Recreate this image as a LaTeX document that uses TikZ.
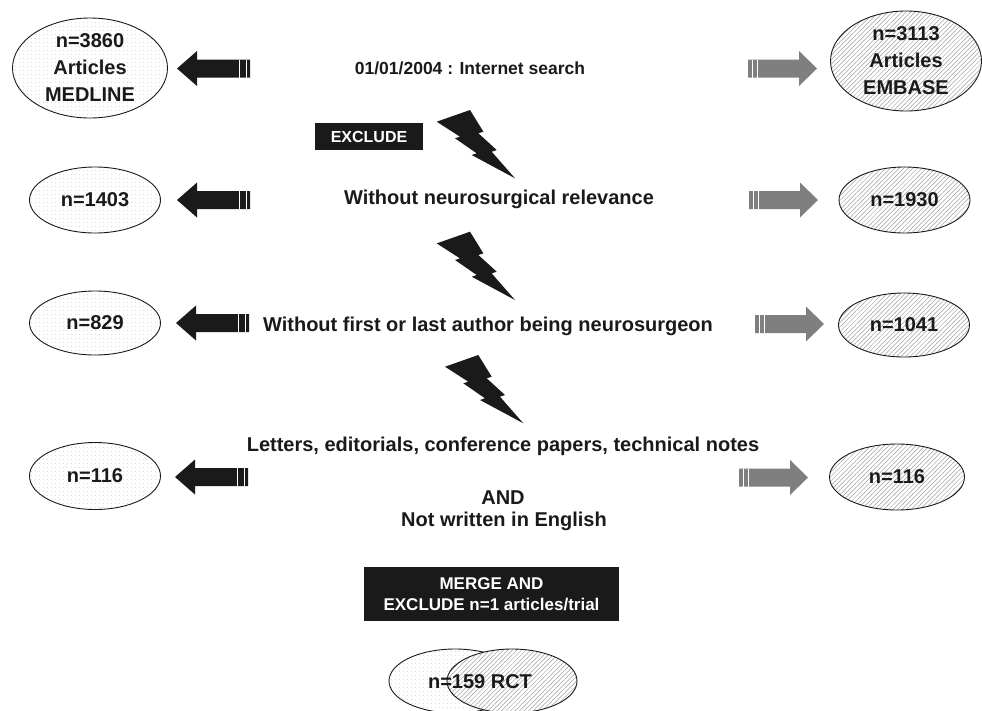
\documentclass[tikz,border=0pt]{standalone}
\usepackage{fontspec}
\setmainfont{Liberation Sans}
\usetikzlibrary{shapes.geometric,patterns.meta}
\definecolor{ink}{HTML}{1A1A1A}
\definecolor{arrgray}{HTML}{7F7F7F}
\begin{document}
\begin{tikzpicture}[x=1pt,y=-1pt,
  lell/.style={ellipse, draw=ink, line width=0.9pt,
    pattern={Dots[distance=4pt,radius=0.45pt]}, pattern color=gray!55,
    inner sep=0pt, align=center, text=ink,
    font=\fontsize{20}{27}\selectfont\bfseries},
  rell/.style={ellipse, draw=ink, line width=0.9pt, preaction={fill=white},
    pattern={Lines[angle=45,distance=3.2pt,line width=0.5pt]}, pattern color=gray!75,
    inner sep=0pt, align=center, text=ink,
    font=\fontsize{20}{27}\selectfont\bfseries},
  ctext/.style={inner sep=0pt, text=ink, font=\fontsize{20}{24}\selectfont\bfseries},
  blackbox/.style={fill=ink, text=white, inner sep=0pt, align=center},
  blackarr/.pic={
    \fill[ink] (0,0) -- (20,-17.5) -- (20,-9) -- (73,-9) -- (73,9) -- (20,9) -- (20,17.5) -- cycle;
    \draw[white, line width=0.9pt] (62,-9) -- (62,9) (69,-9) -- (69,9);
  },
  grayarr/.pic={
    \fill[arrgray] (0,0) -- (-18,-17.5) -- (-18,-9) -- (-69,-9) -- (-69,9) -- (-18,9) -- (-18,17.5) -- cycle;
    \draw[white, line width=0.9pt] (-65,-9) -- (-65,9) (-60,-9) -- (-60,9);
  },
  bolt/.pic={
    \fill[ink] (0,11.7) -- (33.3,0) -- (46.7,21.7) -- (41.7,23.3) -- (60,40) -- (55,41.7)
      -- (78.3,68.3) -- (35,45) -- (40,43.3) -- (18.3,28.3) -- (23.3,26.7) -- cycle;
  }
]
\useasboundingbox (0,0) rectangle (982,710);

% row 1
\node[lell, minimum width=155pt, minimum height=100pt] (med0) at (90,68) {n=3860\\Articles\\MEDLINE};
\node[rell, minimum width=151pt, minimum height=100pt] (emb0) at (906,61) {n=3113\\Articles\\EMBASE};
\node[ctext, font=\fontsize{17.5}{21}\selectfont\bfseries] (t0) at (470,68) {01/01/2004 : Internet search};
\pic at (177,68.5) {blackarr};
\pic at (817,68.5) {grayarr};

\node[blackbox, minimum width=108pt, minimum height=27pt, font=\fontsize{16}{19}\selectfont\bfseries] (excl) at (369,136.5) {EXCLUDE};
\pic at (436.7,110) {bolt};

% row 2
\node[lell, minimum width=131pt, minimum height=66pt] (med1) at (95,200) {n=1403};
\node[rell, minimum width=131pt, minimum height=66pt] (emb1) at (904.5,200) {n=1930};
\node[ctext] (t1) at (499,199) {Without neurosurgical relevance};
\pic at (177,200) {blackarr};
\pic at (818,200) {grayarr};

\pic at (436.7,231.7) {bolt};

% row 3
\node[lell, minimum width=131pt, minimum height=64pt] (med2) at (95,323) {n=829};
\node[rell, minimum width=131pt, minimum height=64pt] (emb2) at (904,325) {n=1041};
\node[ctext] (t2) at (488,326) {Without first or last author being neurosurgeon};
\pic at (176,323) {blackarr};
\pic at (824,324) {grayarr};

\pic at (445,355) {bolt};

% row 4
\node[lell, minimum width=131pt, minimum height=67pt] (med3) at (95,476) {n=116};
\node[rell, minimum width=135pt, minimum height=66pt] (emb3) at (897,477) {n=116};
\node[ctext] (t3) at (503,446) {Letters, editorials, conference papers, technical notes};
\node[ctext] (and) at (503,498) {AND};
\node[ctext] (t4) at (504,521) {Not written in English};
\pic at (175,477) {blackarr};
\pic at (808,477.5) {grayarr};

% merge
\node[blackbox, minimum width=255pt, minimum height=54pt, font=\fontsize{17}{21}\selectfont\bfseries] (merge) at (491.5,594) {MERGE AND\\EXCLUDE n=1 articles/trial};

% venn
\node[lell, minimum width=132pt, minimum height=64pt] (vl) at (455,681) {};
\node[rell, minimum width=130pt, minimum height=64pt] (vr) at (512,681) {};
\node[ctext, font=\fontsize{20}{24}\selectfont\bfseries] (rct) at (480,682) {n=159 RCT};
\end{tikzpicture}
\end{document}
